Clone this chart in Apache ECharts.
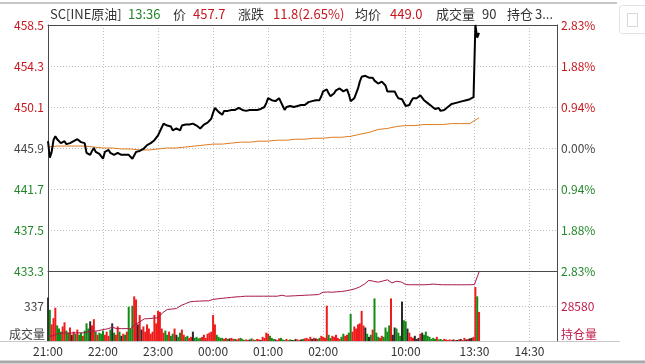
<!DOCTYPE html>
<html><head><meta charset="utf-8">
<script src="https://cdn.jsdelivr.net/npm/echarts@6/dist/echarts.min.js"></script>
<style>html,body{margin:0;padding:0;background:#fff;}#c{width:645px;height:364px;}</style>
</head><body><div id="c"></div>
<script>
// ---------------- data ----------------
const sessions = [['21:00','02:30'],['09:00','10:15'],['10:30','11:30'],['13:30','15:00']];
const labelTimes = ['21:00','22:00','23:00','00:00','01:00','02:00','10:00','13:30','14:30'];
const gridTimes = ['22:00','23:00','00:00','01:00','02:00','09:00','10:00','10:30','13:30','14:30'];
const prevSettle = 445.9;
const priceMin = 433.3, priceMax = 458.5, priceInterval = 4.2;
const volMax = 674, volInterval = 337;
const oiMin = 27080, oiMax = 30080, oiInterval = 1500;

const priceStep = 2; // minutes per value
const price = [
446.6,444.9,445.5,446.7,447.1,446.8,446.6,446.4,446.5,446.6,446.3,446.2,446.4,446.4,446.6,446.5,446.8,446.7,446.5,446.6,446.4,
445.4,445.2,445.2,445.6,445.9,445.5,445.6,445.3,445.2,444.8,445.5,445.6,445.7,445.4,445.4,445.2,445.3,445.4,445.2,445.2,
445.3,445.2,445.3,445.2,445.1,444.8,445.0,445.5,445.5,445.6,445.6,445.8,445.9,446.2,446.3,446.4,446.6,446.7,446.9,447.2,
447.4,448.0,448.4,448.3,448.2,448.3,448.1,447.7,447.9,447.9,447.8,447.7,448.2,448.4,448.3,448.2,448.3,448.4,448.4,448.3,
448.2,448.1,447.9,448.0,448.3,448.4,448.5,448.6,448.9,449.5,450.0,449.8,449.6,449.4,449.3,449.7,449.8,449.7,449.7,449.8,
449.9,449.8,449.9,450.0,449.9,449.8,449.6,449.7,449.8,449.8,449.7,449.8,449.7,449.8,449.9,449.9,450.0,450.1,450.5,451.0,
450.9,450.8,450.7,450.7,450.9,451.0,450.6,450.2,449.8,450.1,450.3,450.2,450.2,450.1,450.1,450.2,450.3,450.3,450.2,450.3,
450.4,450.6,450.7,450.7,450.8,450.8,450.9,450.8,451.2,451.7,451.8,451.9,451.5,451.2,451.4,451.5,451.8,451.9,452.0,451.8,
451.7,451.8,451.9,451.4,450.7,450.8,451.0,451.5,452.0,452.7,453.2,453.3,453.3,453.1,453.1,453.0,453.1,452.8,452.6,452.5,
452.6,452.7,452.5,452.3,451.7,451.5,451.7,451.7,451.7,451.3,451.0,450.9,450.9,450.7,450.2,450.2,450.3,450.7,451.0,451.0,
451.0,451.0,451.3,451.3,450.8,450.6,450.5,450.3,450.2,450.0,449.9,450.1,450.0,449.7,449.6,449.8,450.0,450.1,450.3,450.4,
450.4,450.5,450.5,450.6,450.6,450.7,450.8,450.8,450.9,450.9,450.9,451.1,458.5,457.2,457.7
];
const volStep = 2;
const volume = [
420,300,160,220,320,150,120,90,140,180,100,80,130,60,90,70,110,60,80,50,100,
170,120,190,150,210,90,60,80,70,100,60,90,50,110,170,80,60,140,90,50,
70,60,90,330,120,340,430,400,160,250,110,140,90,160,120,70,90,250,170,290,
280,120,80,100,60,90,50,70,120,60,40,80,110,60,40,50,30,40,90,30,
40,25,30,40,60,30,70,80,90,250,160,60,40,30,30,20,30,20,25,30,
20,20,15,25,30,20,10,15,10,15,25,15,10,20,15,10,40,30,80,70,
50,30,20,15,10,25,30,15,10,20,10,15,10,10,20,15,10,15,20,25,
30,20,40,20,30,25,20,30,50,40,30,340,60,30,50,40,60,30,20,40,
70,50,60,80,260,90,140,120,160,170,290,150,130,70,40,60,110,410,80,40,
30,50,40,130,90,150,410,60,130,120,80,50,380,200,190,120,80,40,30,50,
20,30,70,80,60,90,50,40,20,30,20,40,15,20,10,20,15,10,15,10,
15,10,10,15,20,10,30,15,20,25,30,40,520,430,280
];
const avgStep = 10;
const avgPrice = [
446.0,446.1,446.1,446.1,446.1,446.0,445.9,445.9,445.8,445.8,445.7,445.7,445.8,445.9,445.9,446.0,
446.1,446.2,446.3,446.3,446.4,446.5,446.5,446.6,446.6,446.7,446.7,446.8,446.8,446.9,446.9,447.0,
447.0,447.1,447.3,447.5,447.8,447.9,448.1,448.2,448.2,448.3,448.3,448.3,448.4,448.4,448.4,449.0
];
const oiStep = 5;
const openInterest = [
27290,27300,27380,27420,27420,27420,27430,27430,27430,27490,
27500,27520,27570,27600,27670,27610,27610,27610,27610,27780,
27900,28030,28040,28060,28070,28290,28430,28450,28470,28600,
28680,28760,28780,28790,28800,28800,28860,28890,28910,28930,
28950,28970,28980,29000,29000,29000,29000,29000,29000,29000,
29000,29040,29000,29010,29020,29030,29040,29050,29060,29070,
29170,29180,29170,29190,29200,29230,29270,29320,29400,29520,
29680,29640,29600,29650,29700,29570,29640,29610,29500,29490,
29490,29490,29490,29500,29520,29500,29490,29490,29490,29490,
29490,29490,29490,29500,30040
];
const headerTexts = ['SC[INE原油]','13:36','价','457.7','涨跌','11.8(2.65%)','均价','449.0','成交量','90','持仓','3...'];
const volTitle = '成交量', oiTitle = '持仓量';

// ---------------- layout / style ----------------
const L = 48, R = 88, T0 = 25, H0 = 246, T1 = 271, H1 = 70;
const RED = '#c8161e', GREEN = '#23872a', GREY = '#444', CRIMSON = '#c21d4a';
const FONT = '"Microsoft YaHei","Noto Sans CJK SC",sans-serif';
const headerX = [50,128,173,193,238,273,355,390,436,482,507,535];
const headerColor = ['#333',GREEN,'#333',RED,'#333',RED,'#333',RED,'#333','#333','#333','#333'];
const dotted = {color:'#bcbcbc', width:1, type:[1,2]};

function toMin(t){const p=t.split(':').map(Number);return p[0]*60+p[1];}
function fmt(m){m=((m%1440)+1440)%1440;return String(Math.floor(m/60)).padStart(2,'0')+':'+String(m%60).padStart(2,'0');}
const categories=[];
sessions.forEach(([s,e])=>{let a=toMin(s),b=toMin(e);if(b<=a)b+=1440;for(let t=a;t<b;t++)categories.push(fmt(t));});
categories.push(sessions[sessions.length-1][1]);

const labelFn = (i,v)=>labelTimes.indexOf(v)>=0;
const gridFn = (i,v)=>gridTimes.indexOf(v)>=0;
const priceColor = v => v>prevSettle+1e-6?RED:(v<prevSettle-1e-6?GREEN:GREY);

const priceData = price.map((v,i)=>[i*priceStep,v]);
const avgData = avgPrice.map((v,i)=>[i*avgStep,v]);
const oiData = openInterest.map((v,i)=>[i*oiStep,v]);
const volData = volume.map((v,i)=>{
  const prev = i>0?price[i-1]:price[0];
  const c = price[i]>prev?'#ee1c1c':(price[i]<prev?'#138a13':'#2a2a2a');
  return {value:[i*volStep,v], itemStyle:{color:c}};
});

const chart = echarts.init(document.getElementById('c'), null, {renderer:'canvas'});
const headerGraphics = headerTexts.map((t,i)=>({type:'text', x:headerX[i], y:14, z:10,
  style:{text:t, fill:headerColor[i], font:'13px '+FONT, verticalAlign:'middle'}}));

chart.setOption({
  animation:false,
  textStyle:{fontFamily:FONT},
  grid:[{left:L,right:R,top:T0,height:H0},{left:L,right:R,top:T1,height:H1}],
  xAxis:[
    {gridIndex:0,type:'category',data:categories,boundaryGap:false,
     axisLine:{show:true,lineStyle:{color:'#4a4a4a'}},axisTick:{show:false},axisLabel:{show:false},
     splitLine:{show:true,interval:gridFn,lineStyle:dotted}},
    {gridIndex:0,type:'category',data:categories,boundaryGap:false,position:'top',
     axisLine:{show:true,lineStyle:{color:'#4a4a4a'}},axisTick:{show:false},axisLabel:{show:false},splitLine:{show:false}},
    {gridIndex:1,type:'category',data:categories,boundaryGap:false,
     axisLine:{show:true,lineStyle:{color:'#c8c8c8'}},axisTick:{show:false},
     axisLabel:{show:true,interval:labelFn,color:'#333',fontSize:12,margin:4,fontFamily:FONT},
     splitLine:{show:true,interval:gridFn,lineStyle:dotted}}
  ],
  yAxis:[
    {gridIndex:0,type:'value',min:priceMin,max:priceMax,interval:priceInterval,position:'left',
     axisLine:{show:true,lineStyle:{color:'#4a4a4a'}},axisTick:{show:false},
     axisLabel:{formatter:v=>v.toFixed(1),color:priceColor,fontSize:12,margin:4,fontFamily:FONT},
     splitLine:{show:true,lineStyle:dotted,showMinLine:false,showMaxLine:false}},
    {gridIndex:0,type:'value',min:priceMin,max:priceMax,interval:priceInterval,position:'right',
     axisLine:{show:true,lineStyle:{color:'#4a4a4a'}},axisTick:{show:false},
     axisLabel:{formatter:v=>(Math.abs(v-prevSettle)/prevSettle*100).toFixed(2)+'%',color:priceColor,fontSize:12,margin:4,fontFamily:FONT},
     splitLine:{show:false}},
    {gridIndex:1,type:'value',min:0,max:volMax,interval:volInterval,position:'left',
     axisLine:{show:true,lineStyle:{color:'#4a4a4a'}},axisTick:{show:false},
     axisLabel:{formatter:v=>Math.abs(v-volInterval)<1e-6?String(volInterval):'',color:GREY,fontSize:12,margin:4,fontFamily:FONT},
     splitLine:{show:true,lineStyle:dotted,showMinLine:false,showMaxLine:false}},
    {gridIndex:1,type:'value',min:oiMin,max:oiMax,interval:oiInterval,position:'right',
     axisLine:{show:true,lineStyle:{color:'#4a4a4a'}},axisTick:{show:false},
     axisLabel:{formatter:v=>Math.abs(v-(oiMin+oiInterval))<1e-6?String(v):'',color:CRIMSON,fontSize:12,margin:4,fontFamily:FONT},
     splitLine:{show:false}}
  ],
  series:[
    {type:'bar',xAxisIndex:2,yAxisIndex:2,data:volData,barWidth:2,large:false,z:2},
    {type:'line',xAxisIndex:2,yAxisIndex:3,data:oiData,symbol:'none',lineStyle:{color:'#a8174a',width:1},z:3},
    {type:'line',xAxisIndex:0,yAxisIndex:0,data:avgData,symbol:'none',lineStyle:{color:'#e07a1f',width:1},z:3},
    {type:'line',xAxisIndex:0,yAxisIndex:0,data:priceData,symbol:'none',lineStyle:{color:'#000',width:2},z:4}
  ],
  graphic:headerGraphics.concat([
    {type:'text',x:9,y:T1+H1-1,style:{text:volTitle,fill:GREY,font:'12px '+FONT,verticalAlign:'bottom'}},
    {type:'text',x:645-R+4,y:T1+H1-1,style:{text:oiTitle,fill:CRIMSON,font:'12px '+FONT,verticalAlign:'bottom'}},
    {type:'line',shape:{x1:0,y1:3,x2:617,y2:3},style:{stroke:'#c8c8c8',lineWidth:2}},
    {type:'line',shape:{x1:0,y1:T1+H1+0.5,x2:620,y2:T1+H1+0.5},style:{stroke:'#c8c8c8',lineWidth:1}},
    {type:'line',shape:{x1:0,y1:362,x2:645,y2:362},style:{stroke:'#a8a8a8',lineWidth:3}},
    {type:'rect',shape:{x:619.5,y:5.5,width:30,height:28,r:3},style:{fill:'#fff',stroke:'#e2e2e2',lineWidth:1}},
    {type:'rect',shape:{x:627.5,y:13.5,width:10,height:13},style:{fill:'none',stroke:'#d8d8d8',lineWidth:1}}
  ])
});
</script></body></html>
